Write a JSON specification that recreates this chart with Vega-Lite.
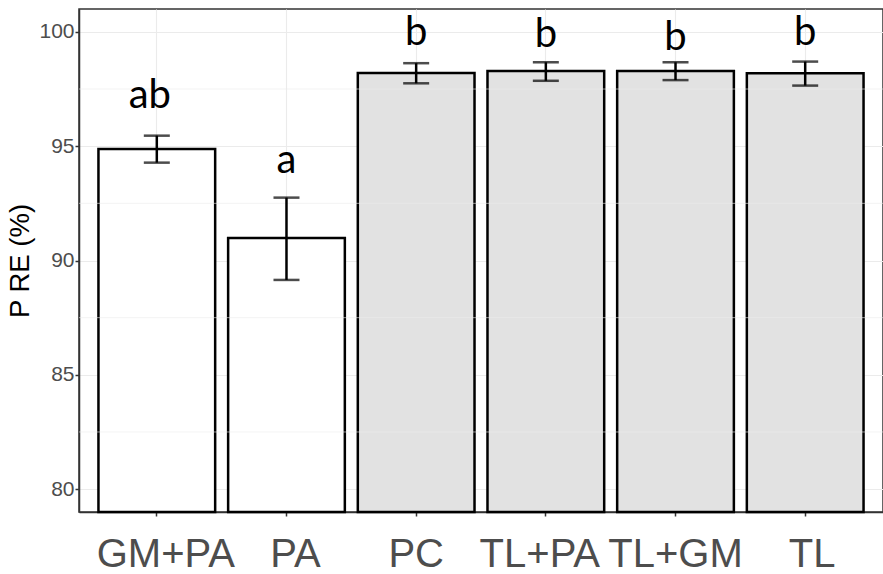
{
  "$schema": "https://vega.github.io/schema/vega-lite/v6.json",
  "width": 804,
  "height": 503,
  "autosize": {"type": "none"},
  "padding": {"left": 79, "top": 9, "right": 0, "bottom": 62},
  "background": "white",
  "config": {
    "view": {"stroke": "#333333", "strokeWidth": 1.5},
    "axis": {
      "domainColor": "#333333",
      "domainWidth": 1.5,
      "tickColor": "#333333",
      "tickWidth": 1.5,
      "tickSize": 4,
      "gridColor": "#ebebeb",
      "gridWidth": 1.1,
      "labelColor": "#4d4d4d",
      "labelFont": "Liberation Sans",
      "titleFont": "Liberation Sans",
      "titleFontWeight": "normal",
      "titleColor": "#000000"
    }
  },
  "datasets": {
    "bars": [
      {"trt": "GM+PA", "mean": 94.88, "lo": 94.28, "hi": 95.46, "label": "ab", "ly": 96.67, "grp": "plain"},
      {"trt": "PA", "mean": 90.98, "lo": 89.15, "hi": 92.75, "label": "a", "ly": 93.84, "grp": "plain"},
      {"trt": "PC", "mean": 98.2, "lo": 97.75, "hi": 98.63, "label": "b", "ly": 99.43, "grp": "hatch"},
      {"trt": "TL+PA", "mean": 98.29, "lo": 97.86, "hi": 98.67, "label": "b", "ly": 99.35, "grp": "hatch"},
      {"trt": "TL+GM", "mean": 98.29, "lo": 97.89, "hi": 98.67, "label": "b", "ly": 99.21, "grp": "hatch"},
      {"trt": "TL", "mean": 98.19, "lo": 97.65, "hi": 98.7, "label": "b", "ly": 99.43, "grp": "hatch"}
    ],
    "minor": [{"g": 82.5}, {"g": 87.5}, {"g": 92.5}, {"g": 97.5}]
  },
  "layer": [
    {
      "data": {"name": "bars"},
      "mark": {"type": "bar", "stroke": "#000000", "strokeWidth": 2.5},
      "encoding": {
        "x": {
          "field": "trt", "type": "nominal", "sort": null,
          "scale": {"paddingInner": 0.1, "paddingOuter": 0.15},
          "axis": {
            "labelAngle": 0, "labelFontSize": 40, "labelPadding": 18, "title": null, "grid": true,
            "labelOffset": {"expr": "datum.value === 'GM+PA' || datum.value === 'PA' ? 9 : datum.value === 'TL+PA' ? -6 : datum.value === 'TL' ? 7 : 0"}
          }
        },
        "y": {
          "field": "mean", "type": "quantitative",
          "scale": {"domain": [79, 101], "zero": false, "nice": false},
          "axis": {"values": [80, 85, 90, 95, 100], "labelFontSize": 21, "labelPadding": 1, "title": "P RE (%)", "titleFontSize": 27.5, "titleX": -59, "titleY": 251.5, "titleAlign": "center", "titleBaseline": "middle", "grid": true}
        },
        "y2": {"datum": 79},
        "fill": {"field": "grp", "type": "nominal", "scale": {"domain": ["plain", "hatch"], "range": ["#ffffff", "#e2e2e2"]}, "legend": null}
      }
    },
    {
      "data": {"name": "minor"},
      "mark": {"type": "rule", "color": "#ebebeb", "strokeWidth": 0.6, "zindex": -1},
      "encoding": {
        "y": {"field": "g", "type": "quantitative"}
      }
    },
    {
      "data": {"name": "bars"},
      "mark": {"type": "rule", "color": "#000000", "strokeWidth": 2.5},
      "encoding": {
        "x": {"field": "trt", "type": "nominal", "sort": null},
        "y": {"field": "lo", "type": "quantitative"},
        "y2": {"field": "hi"}
      }
    },
    {
      "data": {"name": "bars"},
      "mark": {"type": "tick", "color": "#000000", "thickness": 2.5, "size": 26},
      "encoding": {
        "x": {"field": "trt", "type": "nominal", "sort": null},
        "y": {"field": "lo", "type": "quantitative"}
      }
    },
    {
      "data": {"name": "bars"},
      "mark": {"type": "tick", "color": "#000000", "thickness": 2.5, "size": 26},
      "encoding": {
        "x": {"field": "trt", "type": "nominal", "sort": null},
        "y": {"field": "hi", "type": "quantitative"}
      }
    },
    {
      "data": {"name": "bars"},
      "mark": {"type": "text", "font": "Lato", "fontSize": 40, "baseline": "alphabetic", "align": "center", "color": "#000000", "dx": {"expr": "datum.label === 'ab' ? -7 : 0"}},
      "encoding": {
        "x": {"field": "trt", "type": "nominal", "sort": null},
        "y": {"field": "ly", "type": "quantitative"},
        "text": {"field": "label"}
      }
    }
  ]
}
